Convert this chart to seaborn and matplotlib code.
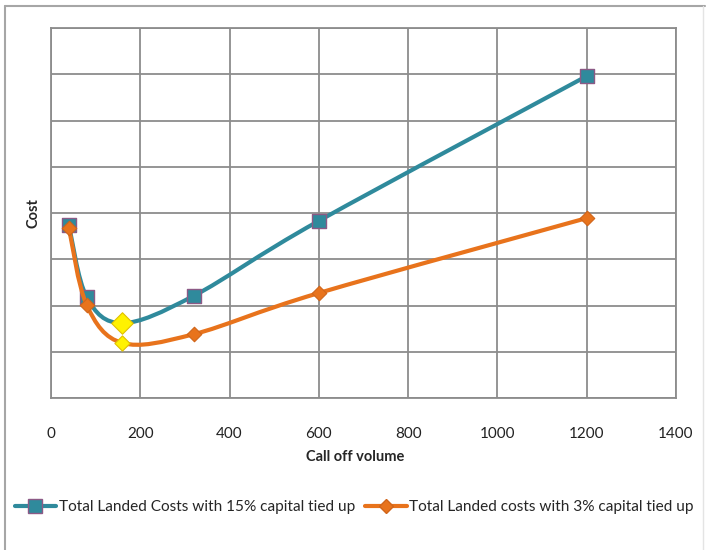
import numpy as np
import pandas as pd
import matplotlib
matplotlib.use("Agg")
import matplotlib.pyplot as plt
from matplotlib.path import Path
from matplotlib.patches import PathPatch
from matplotlib.lines import Line2D
import seaborn as sns

# Call-off volumes and total landed cost (arbitrary cost units)
volume = [40, 80, 160, 320, 600, 1200]
cost_15 = [3.74, 2.18, 1.62, 2.21, 3.83, 6.96]
cost_3 = [3.68, 2.01, 1.19, 1.38, 2.27, 3.89]
label_15 = "Total Landed Costs with 15% capital tied up"
label_3 = "Total Landed costs with 3% capital tied up"
x_ticks = [0, 200, 400, 600, 800, 1000, 1200, 1400]
min_index = 2  # optimum call-off volume, highlighted

teal = "#2F8A9C"
orange = "#E8731C"
square_edge = "#8C5A86"
yellow = "#FFF200"

sns.set_style("white")
plt.rcParams["font.family"] = ["Lato", "DejaVu Sans"]

fig = plt.figure(figsize=(7.06, 5.5), dpi=100)
W, H = 706, 550
ax = fig.add_axes([51 / W, 1 - 398 / H, (676 - 51) / W, (398 - 28) / H])

# outer chart frame
fig.add_artist(Line2D([5 / W, 5 / W], [0, 1 - 6 / H], color="#a6a6a6", lw=1.5))
fig.add_artist(Line2D([5 / W, 705 / W], [1 - 6 / H, 1 - 6 / H], color="#a6a6a6", lw=1.5))
fig.add_artist(Line2D([703 / W, 703 / W], [0, 1 - 6 / H], color="#e4e4e4", lw=1.0))


def smooth_path(xs, ys):
    """Cubic Bezier path through the points (Catmull-Rom style smoothing)."""
    pts = np.column_stack([xs, ys]).astype(float)
    n = len(pts)
    verts = [pts[0]]
    codes = [Path.MOVETO]
    for i in range(n - 1):
        p0 = pts[i - 1] if i > 0 else pts[i]
        p1 = pts[i]
        p2 = pts[i + 1]
        p3 = pts[i + 2] if i + 2 < n else pts[i + 1]
        c1 = p1 + (p2 - p0) / 6.0
        c2 = p2 - (p3 - p1) / 6.0
        verts += [c1, c2, p2]
        codes += [Path.CURVE4] * 3
    return Path(verts, codes)


df = pd.DataFrame({"volume": volume, "c15": cost_15, "c3": cost_3})

# 15% series
ax.add_patch(PathPatch(smooth_path(volume, cost_15), fill=False, edgecolor=teal,
                       lw=3.0, capstyle="round", joinstyle="round", zorder=3))
sns.scatterplot(data=df.drop(index=min_index), x="volume", y="c15", marker="s", s=95,
                color=teal, edgecolor=square_edge, linewidth=1.0, ax=ax, zorder=4)
sns.scatterplot(data=df.iloc[[min_index]], x="volume", y="c15", marker="D", s=120,
                color=yellow, edgecolor="#E0C000", linewidth=0.8, ax=ax, zorder=4)

# 3% series
ax.add_patch(PathPatch(smooth_path(volume, cost_3), fill=False, edgecolor=orange,
                       lw=3.0, capstyle="round", joinstyle="round", zorder=5))
sns.scatterplot(data=df.drop(index=min_index), x="volume", y="c3", marker="D", s=55,
                color=orange, edgecolor="#D0651A", linewidth=0.8, ax=ax, zorder=6)
sns.scatterplot(data=df.iloc[[min_index]], x="volume", y="c3", marker="D", s=60,
                color=yellow, edgecolor="#E0C000", linewidth=0.8, ax=ax, zorder=6)

ax.set_xlim(0, 1400)
ax.set_ylim(0, 8)
ax.set_xticks(x_ticks)
ax.set_xticklabels([str(t) for t in x_ticks])
ax.set_yticks(np.arange(0, 9, 1))
ax.set_yticklabels([])
ax.grid(True, color="#8c8c8c", lw=1.3)
ax.set_axisbelow(True)
for s in ax.spines.values():
    s.set_color("#8c8c8c")
    s.set_linewidth(1.3)
ax.tick_params(axis="x", length=0, pad=21, labelsize=11, labelcolor="#222222")
ax.tick_params(axis="y", length=0)
ax.set_xlabel("Call off volume", fontsize=10.5, fontweight="bold", labelpad=3)
ax.xaxis.set_label_coords((355 - 51) / (676 - 51), -0.14)
ax.set_ylabel("Cost", fontsize=10.5, fontweight="bold", labelpad=4)

handles = [
    Line2D([], [], color=teal, lw=3, marker="s", markersize=9.5,
           markerfacecolor=teal, markeredgecolor=square_edge),
    Line2D([], [], color=orange, lw=3, marker="D", markersize=7,
           markerfacecolor=orange, markeredgecolor="#D0651A"),
]
fig.legend(handles, [label_15, label_3], loc="center", bbox_to_anchor=(354 / W, 1 - 507 / H),
           ncol=2, frameon=False, fontsize=11.1, handlelength=2.7, handletextpad=0.15,
           columnspacing=0.65, borderpad=0)

fig.savefig("out.png", dpi=100)
